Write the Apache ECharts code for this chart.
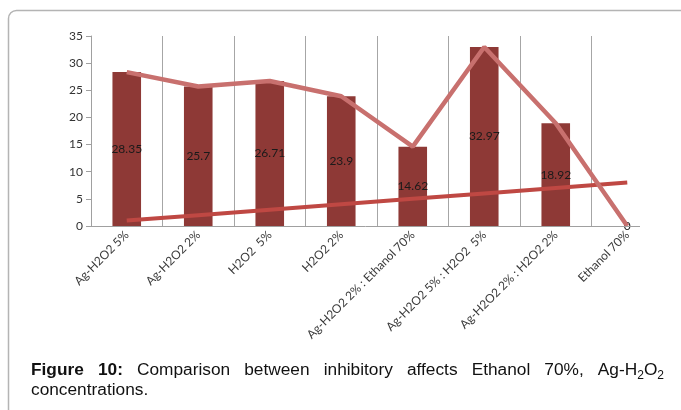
<!DOCTYPE html>
<html>
<head>
<meta charset="utf-8">
<script src="https://cdn.jsdelivr.net/npm/echarts@6/dist/echarts.min.js"></script>
<style>
html,body{margin:0;padding:0;background:#fff;}
#c{width:681px;height:410px;}
</style>
</head>
<body>
<div id="c"></div>
<script>
const categories = ['Ag-H2O2 5%', 'Ag-H2O2 2%', 'H2O2  5%', 'H2O2 2%', 'Ag-H2O2 2% : Ethanol 70%', 'Ag-H2O2 5% : H2O2  5%', 'Ag-H2O2 2% : H2O2 2%', 'Ethanol 70%'];
const barValues = [28.35, 25.7, 26.71, 23.9, 14.62, 32.97, 18.92, 0];
const lineValues = [28.35, 25.7, 26.71, 23.9, 14.62, 32.97, 18.92, 0];
const trendValues = [1, 2, 3, 4, 5, 6, 7, 8];
const yMin = 0, yMax = 35, yStep = 5;
const captionWords = ['Figure', '10:', 'Comparison', 'between', 'inhibitory', 'affects', 'Ethanol', '70%,'];
const captionLine2 = 'concentrations.';

const G = {left: 91, top: 36, width: 572, height: 190};
const font = 'Lato, "DejaVu Sans", sans-serif';
const capFont = '"Liberation Sans", Arial, sans-serif';
const FS = 17.3, SUB = 12;

// justified caption line 1
const mc = document.createElement('canvas').getContext('2d');
function fnt(bold, size) { return (bold ? 'bold ' : '') + size + 'px ' + capFont; }
function w(t, bold, size) { mc.font = fnt(bold, size); return mc.measureText(t).width; }
const pieces = captionWords.map((t, i) => ({t: t, bold: i < 2, wd: w(t, i < 2, FS)}));
const lastW = w('Ag-H', false, FS) + w('2', false, SUB) + w('O', false, FS) + w('2', false, SUB);
const L1 = {x0: 31, x1: 664, y: 370};
const total = pieces.reduce((s, p) => s + p.wd, 0) + lastW;
const gap = (L1.x1 - L1.x0 - total) / pieces.length;
const graphics = [];
function txt(x, y, t, bold, size) {
  return {type: 'text', x: x, y: y, z: 50, style: {text: t, fill: '#111', font: fnt(bold, size), verticalAlign: 'middle', align: 'left'}};
}
let cx = L1.x0;
pieces.forEach(p => { graphics.push(txt(cx, L1.y, p.t, p.bold, FS)); cx += p.wd + gap; });
graphics.push(txt(cx, L1.y, 'Ag-H', false, FS)); cx += w('Ag-H', false, FS);
graphics.push(txt(cx, L1.y + 6, '2', false, SUB)); cx += w('2', false, SUB);
graphics.push(txt(cx, L1.y, 'O', false, FS)); cx += w('O', false, FS);
graphics.push(txt(cx, L1.y + 6, '2', false, SUB));
graphics.push(txt(31, 390, captionLine2, false, FS));

graphics.push({type: 'rect', shape: {x: 8.5, y: 10.5, width: 720, height: 450, r: 8}, style: {fill: 'none', stroke: '#b4b4b4', lineWidth: 1.5}, z: 0});
// x-axis baseline (reference's plot is cut at the right)
graphics.push({type: 'line', shape: {x1: G.left, y1: G.top + G.height + 0.5, x2: 640, y2: G.top + G.height + 0.5}, style: {stroke: '#a0a0a0', lineWidth: 1}, z: 10});
// hide the right-edge boundary line that the reference does not show
graphics.push({type: 'line', shape: {x1: G.left + G.width + 0.5, y1: G.top - 2, x2: G.left + G.width + 0.5, y2: G.top + G.height + 2}, style: {stroke: '#fff', lineWidth: 3}, z: 10});

const chart = echarts.init(document.getElementById('c'), null, {renderer: 'canvas'});
chart.setOption({
  animation: false,
  backgroundColor: '#fff',
  grid: {left: G.left, top: G.top, width: G.width, height: G.height, containLabel: false},
  xAxis: {
    type: 'category',
    data: categories,
    boundaryGap: true,
    axisLine: {show: false},
    axisTick: {show: false},
    splitLine: {show: true, lineStyle: {color: '#a6a6a6', width: 1}},
    axisLabel: {rotate: 45, interval: 0, margin: 7, color: '#3a3a3a', fontSize: 12, fontFamily: font}
  },
  yAxis: {
    type: 'value', min: yMin, max: yMax, interval: yStep,
    axisLine: {show: true, lineStyle: {color: '#a0a0a0'}},
    axisTick: {show: true, length: 5, lineStyle: {color: '#a0a0a0'}},
    splitLine: {show: false},
    axisLabel: {color: '#333', fontSize: 12, fontFamily: font, margin: 8}
  },
  series: [
    {type: 'bar', data: barValues, barWidth: '40%', itemStyle: {color: '#8e3936'},
      label: {show: true, position: 'inside', color: '#1a1a1a', fontSize: 12, fontFamily: font}, z: 2},
    {type: 'line', data: trendValues, symbol: 'none', lineStyle: {color: '#bf4843', width: 4}, z: 3},
    {type: 'line', data: lineValues, symbol: 'none', lineStyle: {color: '#c8706e', width: 4.5}, z: 4}
  ],
  graphic: graphics
});
</script>
</body>
</html>
